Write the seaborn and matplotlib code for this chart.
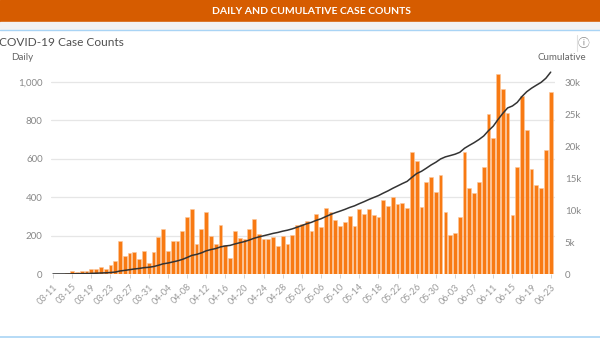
import numpy as np
import pandas as pd
import matplotlib
matplotlib.use("Agg")
import matplotlib.pyplot as plt
from matplotlib.lines import Line2D
from matplotlib.patches import Rectangle
from matplotlib.ticker import FuncFormatter
import seaborn as sns

# ---- data ----
dates = pd.date_range("2020-03-11", "2020-06-23").strftime("%m-%d").tolist()
daily = [1, 2, 2, 5, 16, 12, 17, 14, 28, 26,
         35, 28, 45, 69, 170, 95, 109, 113, 80, 121,
         59, 115, 194, 233, 118, 173, 170, 224, 296, 336,
         155, 236, 322, 199, 158, 257, 150, 85, 226, 187,
         184, 233, 286, 207, 183, 182, 193, 145, 198, 156,
         205, 256, 261, 278, 224, 312, 245, 345, 321, 283,
         251, 270, 302, 252, 338, 312, 340, 308, 299, 384,
         356, 403, 365, 372, 345, 634, 590, 351, 479, 506,
         428, 516, 325, 201, 212, 299, 637, 450, 424, 481,
         559, 832, 707, 1042, 962, 840, 306, 557, 927, 748,
         549, 464, 448, 646, 950]
cumulative = np.cumsum(daily)
left_ticks = [0, 200, 400, 600, 800, 1000]
right_ticks = [0, 5000, 10000, 15000, 20000, 25000, 30000]
right_labels = ["0", "5k", "10k", "15k", "20k", "25k", "30k"]

# ---- style ----
sns.set_theme(style="white")
plt.rcParams["font.family"] = ["Lato", "DejaVu Sans"]

W, H = 600, 338
fig = plt.figure(figsize=(6, 3.38), dpi=100)

def fx(px):
    return px / W

def fy(py):
    return 1 - py / H

# header
fig.patches.append(Rectangle((0, fy(22)), 1, 22 / H, transform=fig.transFigure,
                             color="#d65c00", zorder=0))
fig.patches.append(Rectangle((0, fy(29)), 1, 7 / H, transform=fig.transFigure,
                             color="#f2f2f2", zorder=0))
fig.text(fx(312), fy(11), "DAILY AND CUMULATIVE CASE COUNTS", ha="center", va="center",
         color="white", fontsize=7.5, fontweight="bold")
fig.lines.append(Line2D([0, 1], [fy(29.5), fy(29.5)], transform=fig.transFigure,
                        color="#a9d4f5", lw=1))
fig.lines.append(Line2D([0, 1], [fy(337), fy(337)], transform=fig.transFigure,
                        color="#a9d4f5", lw=1.2))
fig.text(fx(-1), fy(43), "COVID-19 Case Counts", ha="left", va="center",
         color="#505050", fontsize=8.6)
fig.text(fx(11), fy(58), "Daily", ha="left", va="center", color="#666666", fontsize=7)
fig.text(fx(586), fy(58), "Cumulative", ha="right", va="center", color="#666666", fontsize=7)
fig.lines.append(Line2D([fx(577), fx(577)], [fy(35), fy(51)], transform=fig.transFigure,
                        color="#e0e0e0", lw=0.8))
fig.text(fx(584), fy(43), "\u24d8", ha="center", va="center", color="#888888",
         fontsize=8.5, family=["Noto Sans CJK SC", "DejaVu Sans"])

# ---- axes ----
ax_l, ax_r, ax_t, ax_b = 51, 555, 70.5, 274
ax = fig.add_axes([fx(ax_l), fy(ax_b), (ax_r - ax_l) / W, (ax_b - ax_t) / H])

df = pd.DataFrame({"date": dates, "daily": daily})
sns.barplot(data=df, x="date", y="daily", ax=ax, color="#f87a13", saturation=1,
            width=0.78, edgecolor="#fcc79c", linewidth=0.4, zorder=2)

ax2 = ax.twinx()
sns.lineplot(x=np.arange(len(dates)), y=cumulative, ax=ax2, color="#333333",
             linewidth=1.1, zorder=3)

px_per_day = (550.7 - 53) / 104
ax.set_xlim(-(53 - ax_l) / px_per_day, 104 + (ax_r - 550.7) / px_per_day)
ax.set_ylim(0, 1060)
ax2.set_ylim(0, 1060 * 30)

ax.set_yticks(left_ticks)
ax.yaxis.set_major_formatter(FuncFormatter(lambda v, p: f"{int(v):,}"))
ax2.set_yticks(right_ticks)
ax2.set_yticklabels(right_labels)

tick_pos = list(range(0, len(dates), 4))
ax.set_xticks(tick_pos)
ax.set_xticklabels([dates[i] for i in tick_pos], rotation=45, ha="right",
                   rotation_mode="anchor")

ax.yaxis.grid(True, color="#e6e6e6", lw=0.9)
ax.xaxis.grid(False)
ax.set_axisbelow(True)
for a in (ax, ax2):
    for s in a.spines.values():
        s.set_visible(False)
    a.set_xlabel("")
    a.set_ylabel("")

ax.tick_params(axis="y", length=0, pad=6, labelsize=7, labelcolor="#888888")
ax2.tick_params(axis="y", length=0, pad=7, labelsize=7, labelcolor="#888888")
ax.tick_params(axis="x", length=3, width=0.6, color="#cccccc", pad=3,
               labelsize=6.5, labelcolor="#999999", bottom=True)

fig.savefig("out.png", dpi=100)
